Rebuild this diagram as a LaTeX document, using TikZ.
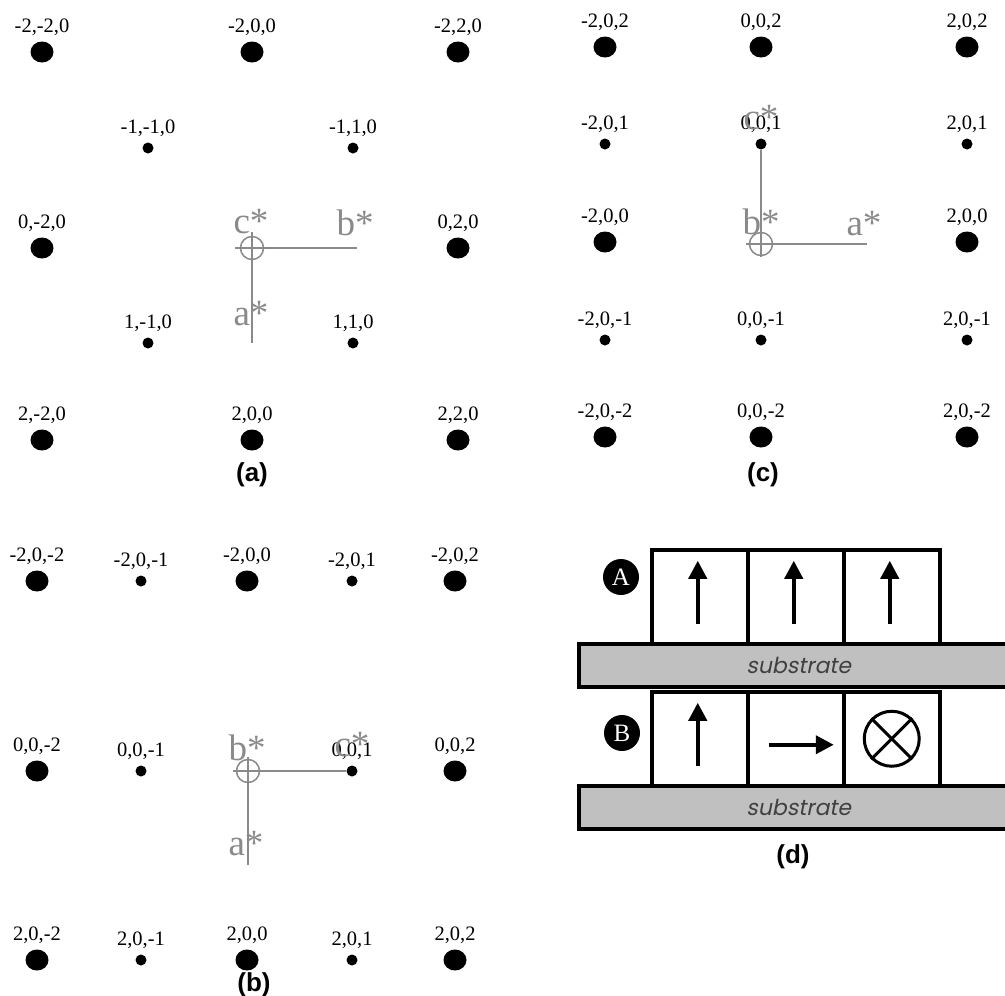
\documentclass[tikz,border=0pt]{standalone}
\usepackage{fontspec}
\setmainfont{Liberation Serif}
\newfontfamily\capsans{Liberation Sans}
\newfontfamily\geosans{Poppins}[FakeSlant=0.2]
\usepackage{tikz}
\usetikzlibrary{
    positioning,
    arrows.meta,
    shapes.geometric,
    calc,
}
\definecolor{axisgray}{RGB}{138,138,138}
\definecolor{substrategray}{RGB}{192,192,192}
\tikzset{
    % Reciprocal lattice spots
    bigspot/.style={ellipse, fill=black, minimum width=23pt, minimum height=21pt, inner sep=0pt},
    smallspot/.style={circle, fill=black, minimum size=11pt, inner sep=0pt},
    hkl/.style={anchor=base, inner sep=0pt, font=\fontsize{20.5}{24}\selectfont},
    % Reciprocal axes
    axis line/.style={draw=axisgray, line width=2pt},
    origin ring/.style={circle, draw=axisgray, line width=1.5pt, minimum size=23pt, inner sep=0pt},
    axis name/.style={anchor=base, inner sep=0pt, text=axisgray, font=\fontsize{37}{40}\selectfont},
    panel tag/.style={font=\capsans\bfseries\fontsize{26}{30}\selectfont},
    % Film layers
    cell/.style={rectangle, draw, line width=3.5pt, minimum width=96pt, minimum height=94pt,
                 anchor=north west, inner sep=0pt},
    substrate/.style={rectangle, draw, fill=substrategray, line width=3.5pt, minimum width=440pt,
                      minimum height=43pt, anchor=north west, text=black!75,
                      font=\geosans\fontsize{22}{26}\selectfont},
    layer tag/.style={circle, fill=black, text=white, minimum size=36pt, inner sep=0pt,
                      font=\fontsize{25}{28}\selectfont},
    spin/.style={-{Triangle[length=18pt, width=18pt]}, line width=4pt},
}

\begin{document}
\begin{tikzpicture}[x=1pt, y=-1pt]
    \useasboundingbox (0,0) rectangle (1005,996);
    \clip (0,0) rectangle (1005,996);

    % (a) hk0 section
    \foreach \x/\y/\t/\s [count=\i] in {
        42/52/{-2,-2,0}/bigspot, 252/52/{-2,0,0}/bigspot, 458/52/{-2,2,0}/bigspot,
        148/148/{-1,-1,0}/smallspot, 353/148/{-1,1,0}/smallspot,
        42/248/{0,-2,0}/bigspot, 458/248/{0,2,0}/bigspot,
        148/343/{1,-1,0}/smallspot, 353/343/{1,1,0}/smallspot,
        42/440/{2,-2,0}/bigspot, 252/440/{2,0,0}/bigspot, 458/440/{2,2,0}/bigspot} {
        \node[\s] (a\i) at (\x,\y) {};
        \node[hkl] (a\i-l) at ([yshift=9pt]a\i.north) {\t};
    }
    \node[origin ring] (a-o) at (252,248) {};
    \coordinate (a-w) at (235,248);
    \coordinate (a-n) at (252,232);
    \coordinate (a-b) at (357,248);
    \coordinate (a-a) at (252,343);
    \draw[axis line] (a-w) -- (a-b);
    \draw[axis line] (a-n) -- (a-a);
    \node[axis name] (a-cs) at (251,233) {c*};
    \node[axis name] (a-bs) at (355,235) {b*};
    \node[axis name] (a-as) at (251,325) {a*};
    \node[panel tag] (a-tag) at (252,475) {(a)};

    % (c) h0l section
    \foreach \x/\y/\t/\s [count=\i] in {
        605/47/{-2,0,2}/bigspot, 761/47/{0,0,2}/bigspot, 967/47/{2,0,2}/bigspot,
        605/144/{-2,0,1}/smallspot, 761/144/{0,0,1}/smallspot, 967/144/{2,0,1}/smallspot,
        605/242/{-2,0,0}/bigspot, 967/242/{2,0,0}/bigspot,
        605/340/{-2,0,-1}/smallspot, 761/340/{0,0,-1}/smallspot, 967/340/{2,0,-1}/smallspot,
        605/437/{-2,0,-2}/bigspot, 761/437/{0,0,-2}/bigspot, 967/437/{2,0,-2}/bigspot} {
        \node[\s] (c\i) at (\x,\y) {};
        \node[hkl] (c\i-l) at ([yshift=9pt]c\i.north) {\t};
    }
    \node[origin ring] (c-o) at (761,244) {};
    \coordinate (c-w) at (746,244);
    \coordinate (c-a) at (867,244);
    \coordinate (c-s) at (761,257);
    \draw[axis line] (c-w) -- (c-a);
    \draw[axis line] (c-s) -- (c5);
    \node[axis name] (c-cs) at (c5-l.base) {c*};
    \node[axis name] (c-bs) at (761,234) {b*};
    \node[axis name] (c-as) at (864,235) {a*};
    \node[panel tag] (c-tag) at (763,475) {(c)};

    % (b) h0l section, other setting
    \foreach \x/\y/\t/\s [count=\i] in {
        37/581/{-2,0,-2}/bigspot, 141/581/{-2,0,-1}/smallspot, 247/581/{-2,0,0}/bigspot,
        352/581/{-2,0,1}/smallspot, 455/581/{-2,0,2}/bigspot,
        37/771/{0,0,-2}/bigspot, 141/771/{0,0,-1}/smallspot,
        352/771/{0,0,1}/smallspot, 455/771/{0,0,2}/bigspot,
        37/960/{2,0,-2}/bigspot, 141/960/{2,0,-1}/smallspot, 247/960/{2,0,0}/bigspot,
        352/960/{2,0,1}/smallspot, 455/960/{2,0,2}/bigspot} {
        \node[\s] (b\i) at (\x,\y) {};
        \node[hkl] (b\i-l) at ([yshift=9pt]b\i.north) {\t};
    }
    \node[origin ring] (b-o) at (248,771) {};
    \coordinate (b-w) at (233,771);
    \coordinate (b-n) at (248,757);
    \coordinate (b-a) at (248,865);
    \draw[axis line] (b-w) -- (b8);
    \draw[axis line] (b-n) -- (b-a);
    \node[axis name] (b-cs) at (b8-l.base) {c*};
    \node[axis name] (b-bs) at (247,760) {b*};
    \node[axis name] (b-as) at (246,855) {a*};
    \node[panel tag] (b-tag) at (254,985) {(b)};

    % (d) films A and B on substrate
    \node[cell] (ta1) at (650,548) {};
    \node[cell] (ta2) at (746,548) {};
    \node[cell] (ta3) at (842,548) {};
    \node[substrate] (sa) at (577,642) {substrate};
    \node[cell] (tb1) at (650,690) {};
    \node[cell] (tb2) at (746,690) {};
    \node[cell] (tb3) at (842,690) {};
    \node[substrate] (sb) at (577,784) {substrate};
    \node[layer tag] (la) at (621,577) {A};
    \node[layer tag] (lb) at (622,733) {B};

    % spins
    \foreach \c in {ta1, ta2, ta3, tb1} {
        \draw[spin] ($(\c.center)+(-2,27)$) -- ($(\c.center)+(-2,-36)$);
    }
    \draw[spin] ($(tb2.center)+(-27,6)$) -- ($(tb2.center)+(38,6)$);
    \node[circle, draw, line width=3pt, minimum size=55pt, inner sep=0pt] (into) at (tb3.center) {};
    \draw[line width=3pt] (into.north west) -- (into.south east);
    \draw[line width=3pt] (into.north east) -- (into.south west);

    \node[panel tag] (d-tag) at (793,857) {(d)};
\end{tikzpicture}
\end{document}
